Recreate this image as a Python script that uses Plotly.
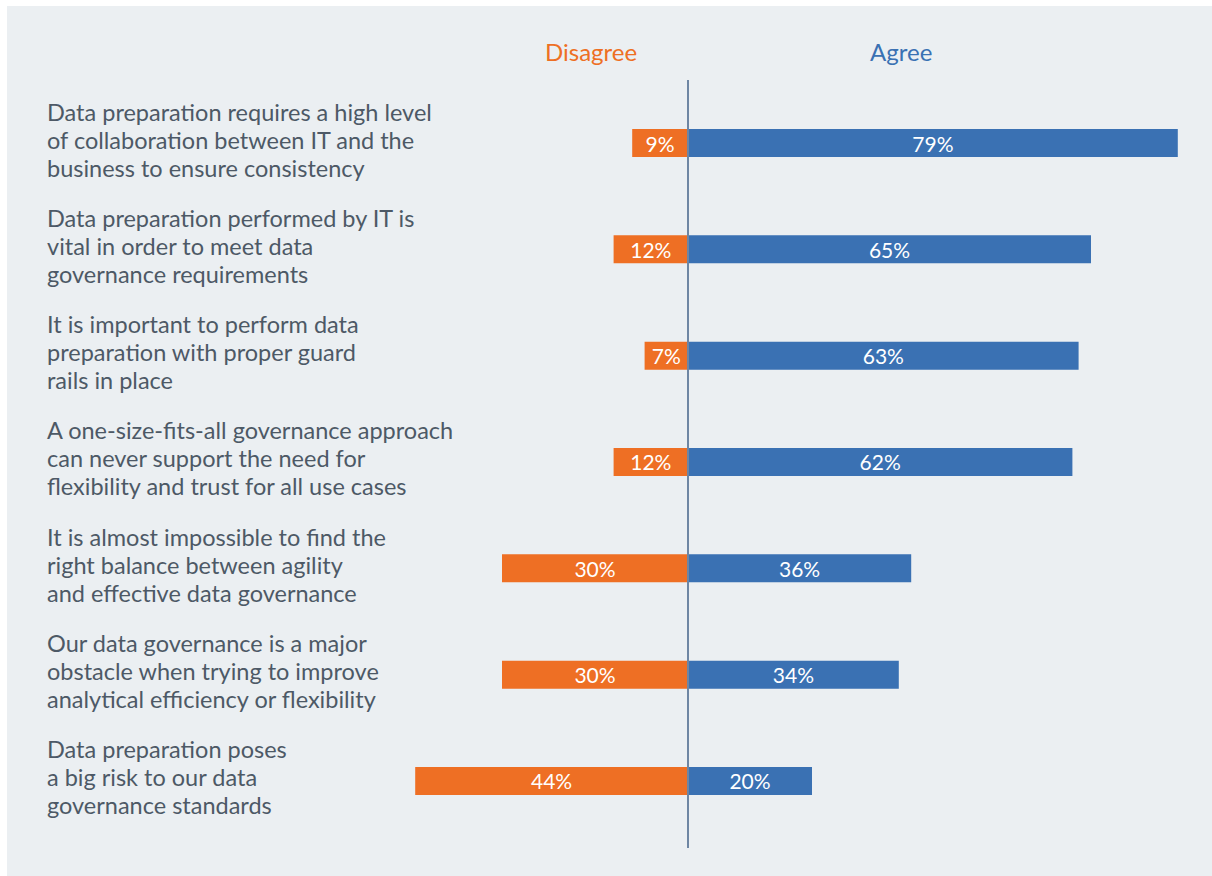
import plotly.graph_objects as go

statements = [
    ["Data preparation requires a high level", "of collaboration between IT and the", "business to ensure consistency"],
    ["Data preparation performed by IT is", "vital in order to meet data", "governance requirements"],
    ["It is important to perform data", "preparation with proper guard", "rails in place"],
    ["A one-size-fits-all governance approach", "can never support the need for", "flexibility and trust for all use cases"],
    ["It is almost impossible to find the", "right balance between agility", "and effective data governance"],
    ["Our data governance is a major", "obstacle when trying to improve", "analytical efficiency or flexibility"],
    ["Data preparation poses", "a big risk to our data", "governance standards"],
]
disagree = [9, 12, 7, 12, 30, 30, 44]
agree = [79, 65, 63, 62, 36, 34, 20]

ORANGE = "#ee6f24"
BLUE = "#3a71b3"
TEXT = "#4d5966"
BG = "#ebeff2"
FONT = "Lato"

W, H = 1212, 876
px_per_unit = 6.2
zero_px = 688
row0_px = 143
row_px = 106.33

x0 = -zero_px / px_per_unit
x1 = x0 + W / px_per_unit
y_top = -row0_px / row_px
y_bot = y_top + H / row_px

rows = list(range(len(statements)))

fig = go.Figure()
fig.add_trace(go.Bar(
    y=rows, x=[-d for d in disagree], orientation="h",
    marker=dict(color=ORANGE, line=dict(width=0)), width=0.263,
    text=[f"{d}%" for d in disagree], textposition="inside",
    insidetextanchor="middle", textfont=dict(color="white", size=21, family=FONT),
    hoverinfo="skip",
))
fig.add_trace(go.Bar(
    y=rows, x=agree, orientation="h",
    marker=dict(color=BLUE, line=dict(width=0)), width=0.263,
    text=[f"{a}%" for a in agree], textposition="inside",
    insidetextanchor="middle", textfont=dict(color="white", size=21, family=FONT),
    hoverinfo="skip",
))

annotations = []
line_off = 28 / row_px
for i, lines in enumerate(statements):
    for k, ln in enumerate(lines):
        annotations.append(dict(
            x=45 / W, xref="paper", y=i + (k - 1) * line_off - 3.5 / row_px, yref="y",
            text=ln, showarrow=False, xanchor="left", yanchor="middle",
            font=dict(size=23.5, color=TEXT, family=FONT),
        ))
annotations.append(dict(x=591 / W, xref="paper", y=1 - 52 / H, yref="paper",
                        text="Disagree", showarrow=False, xanchor="center", yanchor="middle",
                        font=dict(size=24, color=ORANGE, family=FONT)))
annotations.append(dict(x=901 / W, xref="paper", y=1 - 52 / H, yref="paper",
                        text="Agree", showarrow=False, xanchor="center", yanchor="middle",
                        font=dict(size=24, color=BLUE, family=FONT)))

shapes = [
    dict(type="rect", xref="paper", yref="paper", x0=7 / W, x1=1, y0=0, y1=1 - 6 / H,
         fillcolor=BG, line=dict(width=0), layer="below"),
    dict(type="line", xref="x", yref="paper", x0=0, x1=0, y0=1 - 80 / H, y1=1 - 848 / H,
         line=dict(color="#6e86a3", width=2), layer="above"),
]

fig.update_layout(
    width=W, height=H, margin=dict(l=0, r=0, t=0, b=0),
    paper_bgcolor="white", plot_bgcolor="rgba(0,0,0,0)",
    barmode="overlay", showlegend=False,
    xaxis=dict(range=[x0, x1], visible=False, fixedrange=True),
    yaxis=dict(range=[y_bot, y_top], visible=False, fixedrange=True),
    annotations=annotations, shapes=shapes,
    font=dict(family=FONT),
    uniformtext=dict(minsize=21, mode="show"),
)

fig.write_html("out.html", config={"displayModeBar": False},
               post_script="document.body.style.margin='0';document.body.style.overflow='hidden';")
